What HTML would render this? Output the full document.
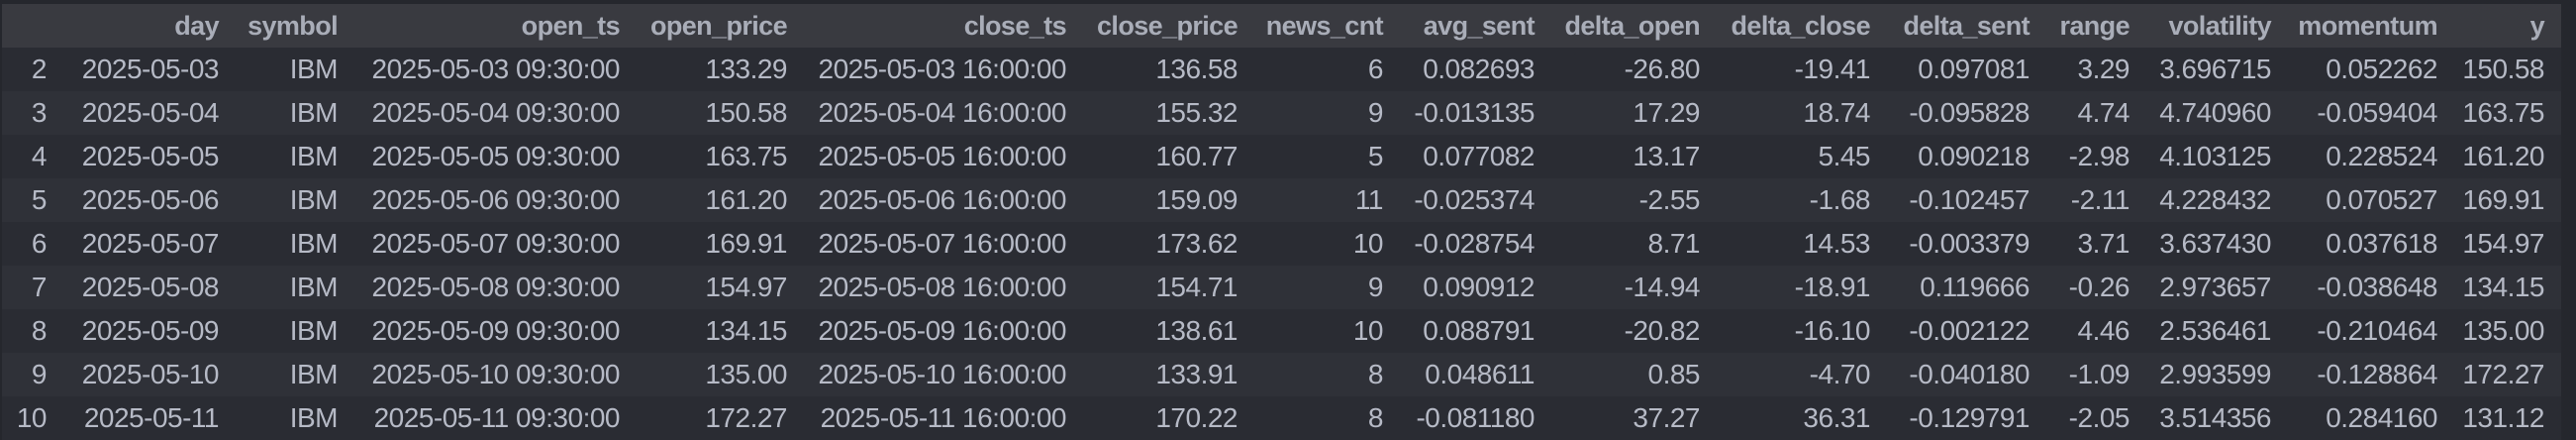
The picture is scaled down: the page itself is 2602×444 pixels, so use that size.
<!DOCTYPE html>
<html><head><meta charset="utf-8"><style>
html,body{margin:0;padding:0;background:#25272d;width:2602px;height:442px;overflow:hidden}
#t{position:absolute;left:2px;top:4px;width:2585px;height:440px}
.r{position:absolute;left:0;width:2585px;height:44px}
.c{position:absolute;top:0;height:44px;line-height:44px;text-align:right;white-space:nowrap;font-family:"Liberation Sans",sans-serif;font-size:28px;letter-spacing:-0.5px;color:#b6bac6}
.h .c{font-weight:bold;font-size:27px;letter-spacing:-0.6px;color:#a9adb8}
</style></head><body>
<div id="t"></div>
<script>
const headers=["","day","symbol","open_ts","open_price","close_ts","close_price","news_cnt","avg_sent","delta_open","delta_close","delta_sent","range","volatility","momentum","y"];
const rights=[45,219,339,624,793,1075,1248,1395,1548,1715,1887,2048,2149,2292,2460,2568];
const rows=[
["2","2025-05-03","IBM","2025-05-03 09:30:00","133.29","2025-05-03 16:00:00","136.58","6","0.082693","-26.80","-19.41","0.097081","3.29","3.696715","0.052262","150.58"],
["3","2025-05-04","IBM","2025-05-04 09:30:00","150.58","2025-05-04 16:00:00","155.32","9","-0.013135","17.29","18.74","-0.095828","4.74","4.740960","-0.059404","163.75"],
["4","2025-05-05","IBM","2025-05-05 09:30:00","163.75","2025-05-05 16:00:00","160.77","5","0.077082","13.17","5.45","0.090218","-2.98","4.103125","0.228524","161.20"],
["5","2025-05-06","IBM","2025-05-06 09:30:00","161.20","2025-05-06 16:00:00","159.09","11","-0.025374","-2.55","-1.68","-0.102457","-2.11","4.228432","0.070527","169.91"],
["6","2025-05-07","IBM","2025-05-07 09:30:00","169.91","2025-05-07 16:00:00","173.62","10","-0.028754","8.71","14.53","-0.003379","3.71","3.637430","0.037618","154.97"],
["7","2025-05-08","IBM","2025-05-08 09:30:00","154.97","2025-05-08 16:00:00","154.71","9","0.090912","-14.94","-18.91","0.119666","-0.26","2.973657","-0.038648","134.15"],
["8","2025-05-09","IBM","2025-05-09 09:30:00","134.15","2025-05-09 16:00:00","138.61","10","0.088791","-20.82","-16.10","-0.002122","4.46","2.536461","-0.210464","135.00"],
["9","2025-05-10","IBM","2025-05-10 09:30:00","135.00","2025-05-10 16:00:00","133.91","8","0.048611","0.85","-4.70","-0.040180","-1.09","2.993599","-0.128864","172.27"],
["10","2025-05-11","IBM","2025-05-11 09:30:00","172.27","2025-05-11 16:00:00","170.22","8","-0.081180","37.27","36.31","-0.129791","-2.05","3.514356","0.284160","131.12"]
];
const t=document.getElementById('t');
function mk(cells,i,isH){
  const r=document.createElement('div');
  r.className='r'+(isH?' h':'');
  
  
  r.style.top=(isH?0:44+44*i)+'px';
  r.style.background=isH?'#393a40':(i%2==0?'#2a2c33':'#2f3138');
  cells.forEach((v,j)=>{
    const c=document.createElement('div');
    c.className='c';
    
    
    c.style.right=(2585-rights[j])+'px';
    c.textContent=v;
    r.appendChild(c);
  });
  t.appendChild(r);
}
mk(headers,0,true);
rows.forEach((row,i)=>mk(row,i,false));
</script>
</body></html>
